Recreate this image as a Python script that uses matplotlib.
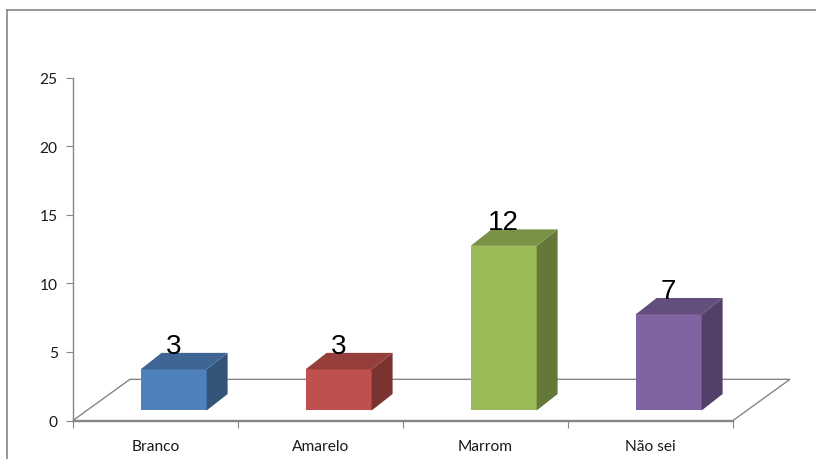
import numpy as np
import matplotlib.pyplot as plt
from matplotlib.patches import Polygon
from matplotlib.colors import to_rgb

categories = ["Branco", "Amarelo", "Marrom", "Não sei"]
counts = [3, 3, 12, 7]
colors = ["#4F81BD", "#C0504D", "#9BBB59", "#8064A2"]
yticks = [0, 5, 10, 15, 20, 25]

# pseudo-3d geometry, in data units (x: categories, y: counts)
floor_dx, floor_dy = 0.345, 3.0     # depth of the floor
front_dx, front_dy = 0.11, 0.73     # where the bar front sits on the floor
bar_dx, bar_dy = 0.127, 1.2         # bar depth
bar_w = 0.4
axis_gray = "#868686"

fig = plt.figure(figsize=(8.16, 4.6), dpi=100)
ax = fig.add_axes([73/816, 38.5/460, 660/816, 343/460])

# outer chart frame
fig.add_artist(plt.Line2D([7/816, 1], [1 - 11/460, 1 - 11/460], color=axis_gray, lw=1.2))
fig.add_artist(plt.Line2D([7/816, 7/816], [0, 1 - 11/460], color=axis_gray, lw=1.2))

n = len(categories)
ax.set_xlim(-0.5, n - 0.5)
ax.set_ylim(0, 25)

# floor
x0, x1 = -0.5, n - 0.5
floor = Polygon([(x0, 0), (x1, 0), (x1 + floor_dx, floor_dy), (x0 + floor_dx, floor_dy)],
                closed=True, facecolor="white", edgecolor=axis_gray, lw=1.0,
                clip_on=False, zorder=1)
ax.add_patch(floor)


def shade(c, f):
    return tuple(np.array(to_rgb(c)) * f)


for i, (v, c) in enumerate(zip(counts, colors)):
    l = i + front_dx - bar_w / 2
    r = i + front_dx + bar_w / 2
    b = front_dy
    t = front_dy + v
    front = Polygon([(l, b), (r, b), (r, t), (l, t)], facecolor=c, edgecolor="none")
    side = Polygon([(r, b), (r + bar_dx, b + bar_dy), (r + bar_dx, t + bar_dy), (r, t)],
                   facecolor=shade(c, 0.64), edgecolor="none")
    top = Polygon([(l, t), (r, t), (r + bar_dx, t + bar_dy), (l + bar_dx, t + bar_dy)],
                  facecolor=shade(c, 0.78), edgecolor="none")
    for p in (front, side, top):
        p.set_clip_on(False)
        p.set_zorder(3)
        ax.add_patch(p)
    ax.text(i + front_dx, t + bar_dy, str(v), ha="center", va="baseline",
            fontsize=20, family="Liberation Sans", color="black", zorder=4)

# axes styling
for s in ("top", "right"):
    ax.spines[s].set_visible(False)
for s in ("left", "bottom"):
    ax.spines[s].set_color(axis_gray)
    ax.spines[s].set_linewidth(1.0)
ax.spines["bottom"].set_zorder(2)

ax.set_yticks(yticks)
ax.set_yticklabels([str(t) for t in yticks])
ax.set_xticks(np.arange(-0.5, n, 1.0))
ax.set_xticklabels([])
ax.set_xticks(np.arange(n), minor=True)
ax.set_xticklabels(categories, minor=True)
ax.tick_params(axis="x", which="major", length=5, color=axis_gray, direction="out")
ax.tick_params(axis="x", which="minor", length=0, pad=13)
ax.tick_params(axis="y", length=5, color=axis_gray, direction="out", pad=6)
for lab in ax.get_xticklabels(minor=True) + ax.get_yticklabels():
    lab.set_family("Lato")
    lab.set_fontsize(11.2)
    lab.set_color("#1a1a1a")
ax.patch.set_visible(False)

plt.savefig("out.png", dpi=100)
plt.close()
